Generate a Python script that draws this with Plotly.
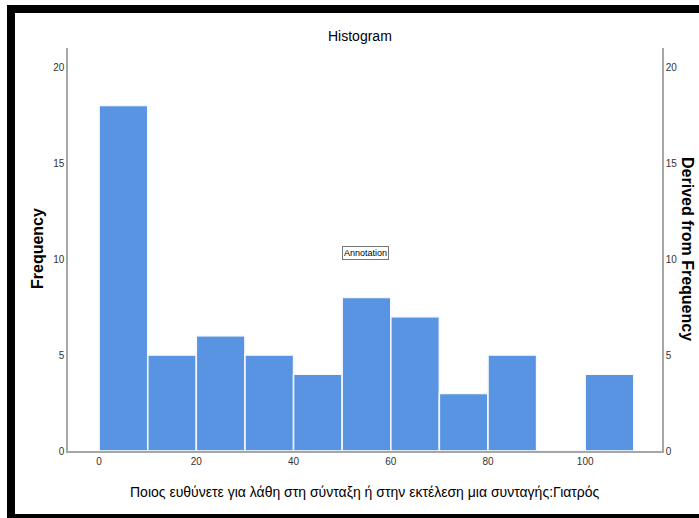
import plotly.graph_objects as go

# ---- data ----
bin_starts = [0, 10, 20, 30, 40, 50, 60, 70, 80, 90, 100]
bin_width = 10
frequency = [18, 5, 6, 5, 4, 8, 7, 3, 5, 0, 4]
x_ticks = [0, 20, 40, 60, 80, 100]
y_ticks = [0, 5, 10, 15, 20]

title_text = "Histogram"
x_title = "Ποιος ευθύνετε για λάθη στη σύνταξη ή στην εκτέλεση μια συνταγής:Γιατρός"
y_title = "Frequency"
y2_title = "Derived from Frequency"
annotation_text = "Annotation"

W, H = 699, 518
L, R, T, B = 68, 37, 48, 67
PW, PH = W - L - R, H - T - B

def px(x):  # window pixels -> paper
    return (x - L) / PW

def py(y):
    return (H - B - y) / PH

centers = [s + bin_width / 2 for s in bin_starts]
bar_color = "#5894E2"
font_fam = "Liberation Sans, Arial, sans-serif"

fig = go.Figure()
fig.add_trace(go.Bar(
    x=centers, y=frequency, width=bin_width,
    marker=dict(color=bar_color, line=dict(color="white", width=1.5)),
    hoverinfo="x+y", showlegend=False,
))
fig.add_trace(go.Bar(
    x=centers, y=frequency, width=bin_width, yaxis="y2",
    marker=dict(color="rgba(0,0,0,0)"), hoverinfo="skip", showlegend=False,
))

axis_line = dict(showline=True, linecolor="#A6A6A6", linewidth=1.5, showgrid=False,
                 zeroline=False, ticks="", tickfont=dict(family=font_fam, size=10, color="#333"))

fig.update_layout(
    width=W, height=H,
    margin=dict(l=L, r=R, t=T, b=B),
    paper_bgcolor="white", plot_bgcolor="white",
    barmode="overlay",
    xaxis=dict(range=[-6.4, 115.8], tickvals=x_ticks, **axis_line),
    yaxis=dict(range=[0, 21.0], tickvals=y_ticks, **axis_line),
    yaxis2=dict(range=[0, 21.0], tickvals=y_ticks, overlaying="y", side="right",
                anchor="x", **axis_line),
)

annotations = [
    dict(text=title_text, xref="paper", yref="paper", x=px(360), y=py(36),
         showarrow=False, font=dict(family=font_fam, size=14, color="black"),
         xanchor="center", yanchor="middle"),
    dict(text=x_title, xref="paper", yref="paper", x=px(365), y=py(492),
         showarrow=False, font=dict(family=font_fam, size=14, color="black"),
         xanchor="center", yanchor="middle"),
    dict(text="<b>" + y_title + "</b>", xref="paper", yref="paper", x=px(37), y=py(249),
         showarrow=False, textangle=-90, font=dict(family=font_fam, size=16, color="black"),
         xanchor="center", yanchor="middle"),
    dict(text="<b>" + y2_title + "</b>", xref="paper", yref="paper", x=px(688), y=py(249),
         showarrow=False, textangle=90, font=dict(family=font_fam, size=16, color="black"),
         xanchor="center", yanchor="middle"),
    dict(text=annotation_text, x=54.7, y=10.3, xref="x", yref="y", showarrow=False,
         font=dict(family=font_fam, size=9, color="black"), bordercolor="#777",
         borderwidth=1, borderpad=1, bgcolor="white"),
]
fig.update_layout(annotations=annotations)

frame = [(7, 5, 15, 530), (7, 5, 710, 13), (7, 514, 710, 530)]
shapes = []
for x0, y0, x1, y1 in frame:
    shapes.append(dict(type="rect", xref="paper", yref="paper",
                       x0=px(x0), x1=px(x1), y0=py(y1), y1=py(y0),
                       fillcolor="black", line=dict(width=0), layer="above"))
fig.update_layout(shapes=shapes)

fig.write_html(
    "out.html",
    config={"displayModeBar": False},
    post_script="document.body.style.margin='0';document.body.style.overflow='hidden';",
)
